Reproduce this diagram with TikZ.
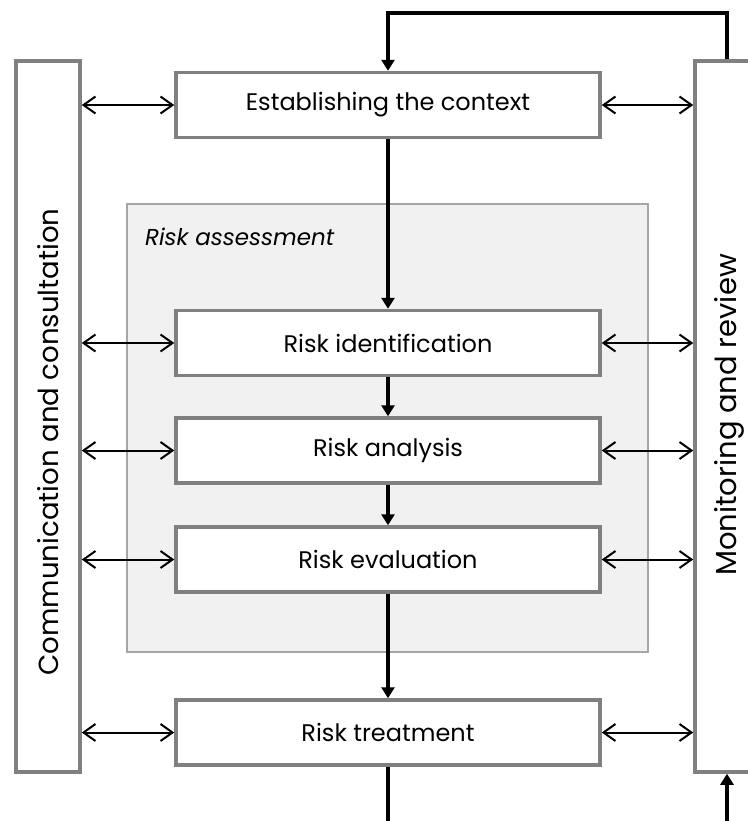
\documentclass[tikz,border=0pt]{standalone}
\usepackage{fontspec}
\setmainfont{Poppins}
\usetikzlibrary{arrows.meta}

\definecolor{boxline}{HTML}{808080}
\definecolor{assessline}{HTML}{A6A6A6}
\definecolor{assessfill}{HTML}{F1F1F1}

\begin{document}
\begin{tikzpicture}[x=0.5pt, y=-0.5pt,
    stepbox/.style={draw=boxline, line width=1.75pt, fill=white, minimum width=212pt, minimum height=32.5pt, inner sep=0pt, font=\fontsize{12}{14}\selectfont},
    sidebox/.style={draw=boxline, line width=1.75pt, fill=white, minimum width=32pt, minimum height=355.5pt, inner sep=0pt},
    sidetext/.style={rotate=90, inner sep=0pt, font=\fontsize{13.8}{16}\selectfont},
    flow/.style={-{Triangle[length=5.5pt, width=6.5pt]}, line width=1.8pt},
    dbl/.style={{Straight Barb[length=6pt, width=8.5pt]}-{Straight Barb[length=6pt, width=8.5pt]}, line width=1pt}]
    \useasboundingbox (0,0) rectangle (748,821);
    % risk assessment frame
    \node[draw=assessline, line width=0.75pt, fill=assessfill, minimum width=260.5pt, minimum height=224pt, inner sep=0pt] (assess) at (387.5,428) {};
    \node[anchor=west, font=\fontsize{11.5}{13}\selectfont\itshape] (assesslabel) at (138,237) {Risk assessment};
    % side boxes
    \node[sidebox] (comm) at (48,416.5) {};
    \node[sidetext] (commtext) at (48,442) {Communication and consultation};
    \node[sidebox] (monitor) at (727,416.5) {};
    \node[sidetext, font=\fontsize{14.5}{17}\selectfont] (monitortext) at (729,415) {Monitoring and review};
    % steps
    \node[stepbox] (ctx) at (388,105) {Establishing the context};
    \node[stepbox] (ident) at (388,343) {Risk identification};
    \node[stepbox] (analysis) at (388,450.5) {Risk analysis};
    \node[stepbox] (evaluation) at (388,559.5) {Risk evaluation};
    \node[stepbox] (treatment) at (388,732.5) {Risk treatment};
    \coordinate (top) at (0,13);
    \coordinate (bottom) at (0,821);
    % main flow
    \draw[flow] (ctx.south) -- (ident.north);
    \draw[flow] (ident.south) -- (analysis.north);
    \draw[flow] (analysis.south) -- (evaluation.north);
    \draw[flow] (evaluation.south) -- (treatment.north);
    \draw[line width=1.8pt] (treatment.south) -- (treatment.south |- bottom);
    \draw[flow] (monitor.south |- bottom) -- (monitor.south);
    \draw[flow] (monitor.north) -- (monitor.north |- top) -| (ctx.north);
    % links to the side boxes
    \foreach \s in {ctx, ident, analysis, evaluation, treatment}{
        \draw[dbl] (comm.east |- \s) -- (\s.west);
        \draw[dbl] (\s.east) -- (monitor.west |- \s);
    }
\end{tikzpicture}
\end{document}
